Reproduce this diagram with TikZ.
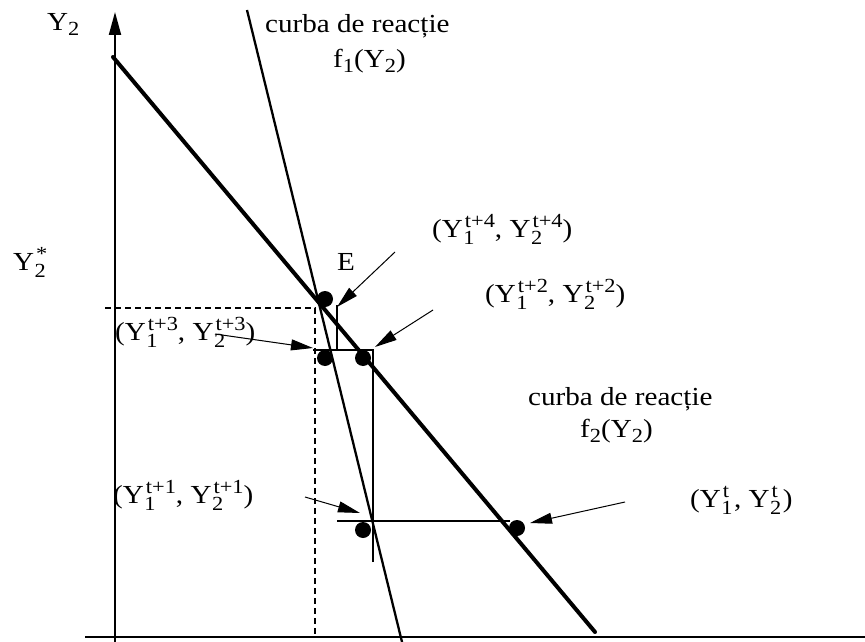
\documentclass[tikz,border=0pt]{standalone}
\usepackage{fontspec}
\setmainfont[FakeStretch=1.12]{Liberation Serif}
\usetikzlibrary{arrows.meta}
\newcommand{\sml}{\fontsize{20}{21}\selectfont}
\newcommand{\YS}[2]{Y\kern0.5pt\setbox0=\hbox{\sml #1}\setbox2=\hbox{\sml #2}%
\ifdim\wd0>\wd2 \wd2=\wd0 \fi
\rlap{\raise-7pt\copy0}\kern1.5pt\raise10pt\box2}
\newcommand{\sub}[1]{\raise-5pt\hbox{\sml #1}}
\begin{document}
\begin{tikzpicture}[x=1pt,y=-1pt,
  lbl/.style={anchor=base west,inner sep=0pt,font=\fontsize{26}{28}\selectfont},
  axisline/.style={line width=2pt},
  thick line/.style={line width=4pt,line cap=round},
  react/.style={line width=2.3pt},
  web/.style={line width=1.3pt},
  dashline/.style={line width=1.2pt,dash pattern=on 6pt off 4pt},
  dot/.style={circle,fill=black,inner sep=0pt,minimum size=16pt},
  pointer/.style={line width=1pt,-{Triangle[length=22pt,width=11pt]}}]
\useasboundingbox (0,0) rectangle (865,642);
% axes
\coordinate (ybot) at (115,642);
\coordinate (ytop) at (115,12);
\coordinate (xl) at (85,637);
\coordinate (xr) at (865,637);
\draw[axisline,-{Triangle[length=23pt,width=12pt]}] (ybot) -- (ytop);
\draw[line width=2.2pt] (xl) -- (xr);
% reaction curves
\coordinate (f2a) at (113,57);
\coordinate (f2b) at (595,632);
\draw[thick line] (f2a) -- (f2b);
\coordinate (f1a) at (247,10);
\coordinate (f1b) at (402,642);
\draw[react] (f1a) -- (f1b);
% dashed equilibrium projections
\coordinate (dl) at (105,308);
\coordinate (dc) at (315,308);
\coordinate (db) at (315,637);
\draw[dashline] (dl) -- (dc) -- (db);
% cobweb
\coordinate (w1) at (510,521);
\coordinate (w2) at (337,521);
\coordinate (w3) at (373,562);
\coordinate (w4) at (373,350);
\coordinate (w5) at (313,350);
\coordinate (w6) at (337,350);
\coordinate (w7) at (337,305);
\draw[web] (w1) -- (w2);
\draw[web] (w3) -- (w4) -- (w5);
\draw[web] (w6) -- (w7);
% dots
\node[dot] (E) at (325,299) {};
\node[dot] (p3) at (325,358) {};
\node[dot] (p2) at (363,358) {};
\node[dot] (p1) at (363,530) {};
\node[dot] (p0) at (517,528) {};
% pointers
\coordinate (aE) at (395,252);  \coordinate (tE) at (337,307);
\coordinate (a2) at (433,310);  \coordinate (t2) at (375,347);
\coordinate (a3) at (215,334);  \coordinate (t3) at (313,348);
\coordinate (a1) at (305,497);  \coordinate (t1) at (360,513);
\coordinate (a0) at (625,502);  \coordinate (t0) at (530,523);
\draw[pointer] (aE) -- (tE);
\draw[pointer] (a2) -- (t2);
\draw[pointer] (a3) -- (t3);
\draw[pointer] (a1) -- (t1);
\draw[pointer] (a0) -- (t0);
% labels
\node[lbl] (ly2) at (47,31) {Y\sub{2}};
\node[lbl] (lys) at (13,270) {\YS{2}{*}};
\node[lbl] (c1) at (265,33) {curba de reacție};
\node[lbl] (f1) at (333,68) {f\sub{1}(Y\sub{2})};
\node[lbl] (lE) at (337,270) {E};
\node[lbl] (l4) at (432,237) {(\YS{1}{t+4}, \YS{2}{t+4})};
\node[lbl] (l2) at (485,302) {(\YS{1}{t+2}, \YS{2}{t+2})};
\node[lbl] (l3) at (115,340) {(\YS{1}{t+3}, \YS{2}{t+3})};
\node[lbl] (c2) at (528,405) {curba de reacție};
\node[lbl] (f2) at (580,437) {f\sub{2}(Y\sub{2})};
\node[lbl] (l1) at (113,503) {(\YS{1}{t+1}, \YS{2}{t+1})};
\node[lbl] (l0) at (690,507) {(\YS{1}{t}, \YS{2}{t})};
\end{tikzpicture}
\end{document}
